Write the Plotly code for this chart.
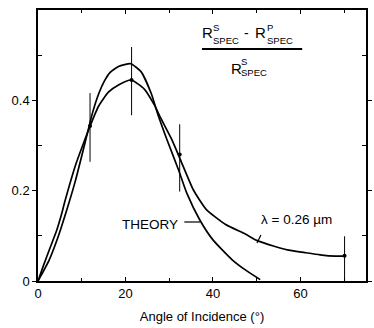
import plotly.graph_objects as go

# ---- data ----
theory_x = [0, 0.8, 2.5, 4.5, 6.5, 8.5, 10.6, 12.4, 13.9, 15.2, 16.5, 18.4, 21.2, 23.6,
            25.9, 27.3, 29.6, 32.1, 34.0, 37.0, 40.0, 44.4, 47.5, 50.8]
theory_y = [0, 0.014, 0.045, 0.095, 0.155, 0.22, 0.30, 0.37, 0.415, 0.443, 0.462, 0.475,
            0.481, 0.463, 0.415, 0.372, 0.31, 0.247, 0.195, 0.135, 0.091, 0.047, 0.024, 0.003]

lam_x = [0, 1.2, 2.7, 4.2, 5.3, 6.2, 8.7, 10.6, 11.9, 13.9, 16.1, 18.4, 21.3, 24.3, 26.6,
         28.1, 30.5, 32.5, 35.5, 38.5, 42.9, 47.4, 50.0, 54.0, 57.0, 61.0, 64.5, 68.0, 70.1]
lam_y = [0, 0.033, 0.072, 0.11, 0.145, 0.178, 0.26, 0.31, 0.343, 0.388, 0.418, 0.434, 0.445,
         0.425, 0.39, 0.36, 0.315, 0.27, 0.202, 0.158, 0.125, 0.104, 0.09, 0.077, 0.069,
         0.063, 0.058, 0.055, 0.055]

pts_x = [11.9, 21.4, 32.4, 70.1]
pts_y = [0.343, 0.445, 0.28, 0.056]
err_plus = [0.073, 0.073, 0.067, 0.043]
err_minus = [0.079, 0.078, 0.082, 0.056]

x_tickvals = [0, 20, 40, 60]
x_ticktext = ["0", "20", "40", "60"]
y_tickvals = [0, 0.2, 0.4]
y_ticktext = ["0", "0.2", "0.4"]

# ---- layout geometry ----
W, H = 374, 328
ML, MR, MT, MB = 38, 2, 10, 47
PW, PH = W - ML - MR, H - MT - MB
FONT = "Liberation Sans, Arial, sans-serif"


def paper(px, py):
    return (px - ML) / PW, (H - MB - py) / PH


fig = go.Figure()
line_style = dict(color="black", width=1.7, shape="spline", smoothing=0.5)
fig.add_trace(go.Scatter(x=theory_x, y=theory_y, mode="lines", line=line_style,
                         showlegend=False, hoverinfo="skip"))
fig.add_trace(go.Scatter(x=lam_x, y=lam_y, mode="lines", line=line_style,
                         showlegend=False, hoverinfo="skip"))
fig.add_trace(go.Scatter(x=pts_x, y=pts_y, mode="markers",
                         marker=dict(color="black", size=4),
                         error_y=dict(type="data", symmetric=False, array=err_plus,
                                      arrayminus=err_minus, color="black",
                                      thickness=1, width=0),
                         showlegend=False, hoverinfo="skip"))

annotations = []
shapes = []


def text(s, px, py, size, xanchor="left"):
    x, y = paper(px, py)
    annotations.append(dict(text=s, x=x, y=y, xref="paper", yref="paper",
                            xanchor=xanchor, yanchor="middle", showarrow=False,
                            font=dict(family=FONT, size=size, color="black")))


def seg(x0, y0, x1, y1, w=1.2):
    a0, b0 = paper(x0, y0)
    a1, b1 = paper(x1, y1)
    shapes.append(dict(type="line", xref="paper", yref="paper", x0=a0, y0=b0,
                       x1=a1, y1=b1, line=dict(color="black", width=w)))


# fraction (R^s_spec - R^p_spec) / R^s_spec
text("R", 203, 33, 15)
text("S", 214, 28, 9.5)
text("SPEC", 214, 40, 9.5)
text("-", 250, 33, 14, "center")
text("R", 257, 33, 15)
text("P", 269, 27, 9.5)
text("SPEC", 269, 40, 9.5)
seg(205, 49, 307, 49, 2)
text("R", 232, 68, 15)
text("S", 243, 62, 9.5)
text("SPEC", 243, 72, 9.5)

# labels
text("THEORY", 152, 224, 13.5, "center")
seg(187, 222, 203, 222)
text("λ = 0.26 µm", 301, 220, 13.5, "center")
seg(265, 235, 261, 243)

fig.update_layout(
    width=W, height=H,
    margin=dict(l=ML, r=MR, t=MT, b=MB, pad=0),
    paper_bgcolor="white", plot_bgcolor="white",
    font=dict(family=FONT, size=13, color="black"),
    annotations=annotations, shapes=shapes,
    xaxis=dict(range=[0, 75], tickvals=x_tickvals, ticktext=x_ticktext,
               ticks="inside", ticklen=4, tickwidth=1, tickcolor="black",
               minor=dict(tickvals=[10, 30, 50, 70], ticks="inside", ticklen=3,
                          tickcolor="black"),
               showline=True, linecolor="black", linewidth=1.5, mirror="ticks",
               showgrid=False, zeroline=False,
               title=dict(text="Angle of Incidence (°)", font=dict(size=13), standoff=12),
               tickfont=dict(size=13)),
    yaxis=dict(range=[0, 0.6], tickvals=y_tickvals, ticktext=y_ticktext,
               ticks="outside", ticklen=4, tickwidth=1, tickcolor="black",
               minor=dict(tickvals=[0.1, 0.3, 0.5], ticks="inside", ticklen=4,
                          tickcolor="black"),
               showline=True, linecolor="black", linewidth=1.5, mirror="ticks",
               showgrid=False, zeroline=False, tickfont=dict(size=13)),
)

fig.write_html("out.html")
